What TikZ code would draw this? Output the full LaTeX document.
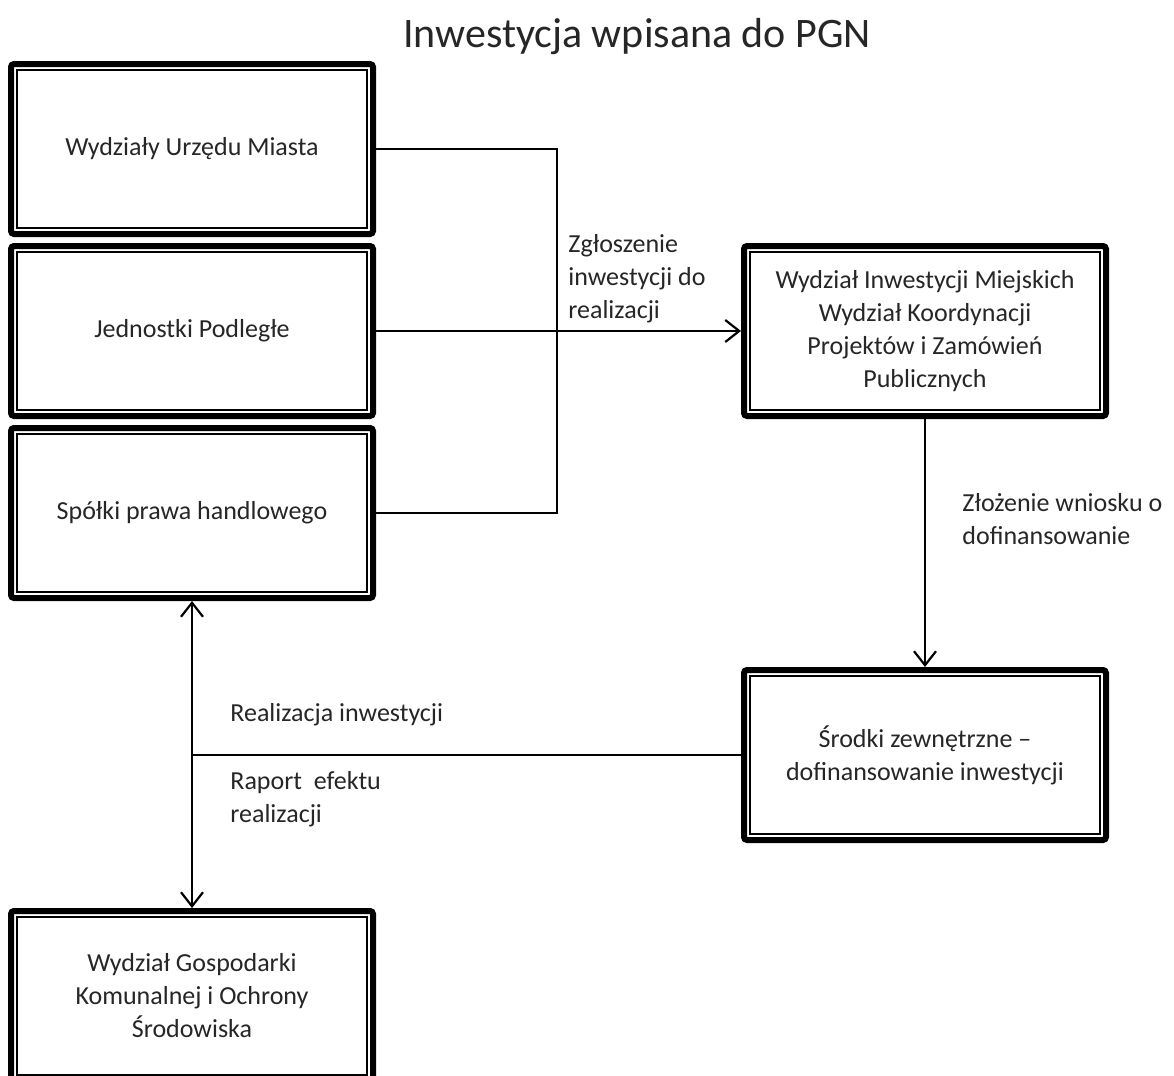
\documentclass[tikz,border=0pt]{standalone}
\usepackage{fontspec}
\setmainfont{Carlito}
\usetikzlibrary{arrows.meta}
\tikzset{
  unitbox/.style={draw,line width=3pt,rounded corners=1.5pt,minimum width=181pt,minimum height=85pt,
    inner sep=0pt,align=center,text=black!85},
  flow/.style={line width=1.1pt},
  tip/.style={-{Straight Barb[length=7pt,width=11pt,line width=1.1pt]}},
  lbl/.style={anchor=west,inner sep=0pt,align=left,text=black!85},
}
\begin{document}
\begin{tikzpicture}[x=0.5pt,y=-0.5pt,every node/.style={font=\fontsize{13}{16.5}\selectfont}]
\clip (0,0) rectangle (1174,1076);
\fill[white] (0,0) rectangle (1174,1076);
\node[anchor=base,font=\fontsize{21}{25}\selectfont,text=black!85] (title) at (637,47) {Inwestycja wpisana do PGN};
% left column
\node[unitbox] (wum) at (192,149) {Wydziały Urzędu Miasta};
\node[unitbox] (jp) at (192,331) {Jednostki Podległe};
\node[unitbox] (sph) at (192,513) {Spółki prawa handlowego};
\node[unitbox] (wgk) at (192,996) {Wydział Gospodarki\\Komunalnej i Ochrony\\Środowiska};
% right column
\node[unitbox] (wim) at (925,331) {Wydział Inwestycji Miejskich\\Wydział Koordynacji\\Projektów i Zamówień\\Publicznych};
\node[unitbox] (sz) at (925,755) {Środki zewnętrzne –\\dofinansowanie inwestycji};
% inner frames
\foreach \n in {wum,jp,sph,wgk,wim,sz}
  \draw[line width=0.6pt] ([shift={(4.5pt,-4.5pt)}]\n.north west) rectangle ([shift={(-4.5pt,4.5pt)}]\n.south east);
% connectors
\coordinate (brtop) at (557,149);
\coordinate (brbot) at (557,513);
\coordinate (join) at (192,755);
\draw[flow] (wum.east) -- (brtop) -- (brbot) -- (sph.east);
\draw[flow,tip] (jp.east) -- (wim.west);
\draw[flow,tip] (wim.south) -- (sz.north);
\draw[flow,{Straight Barb[length=7pt,width=11pt,line width=1.1pt]}-{Straight Barb[length=7pt,width=11pt,line width=1.1pt]}] (sph.south) -- (wgk.north);
\draw[flow] (sz.west) -- (join);
% labels
\node[lbl] (zgl) at (568,279) {Zgłoszenie\\inwestycji do\\realizacji};
\node[lbl] (zloz) at (962,519) {Złożenie wniosku o\\dofinansowanie};
\node[lbl] (real) at (230,715) {Realizacja inwestycji};
\node[lbl] (rap) at (230,799) {Raport\ \ efektu\\realizacji};
\end{tikzpicture}
\end{document}
